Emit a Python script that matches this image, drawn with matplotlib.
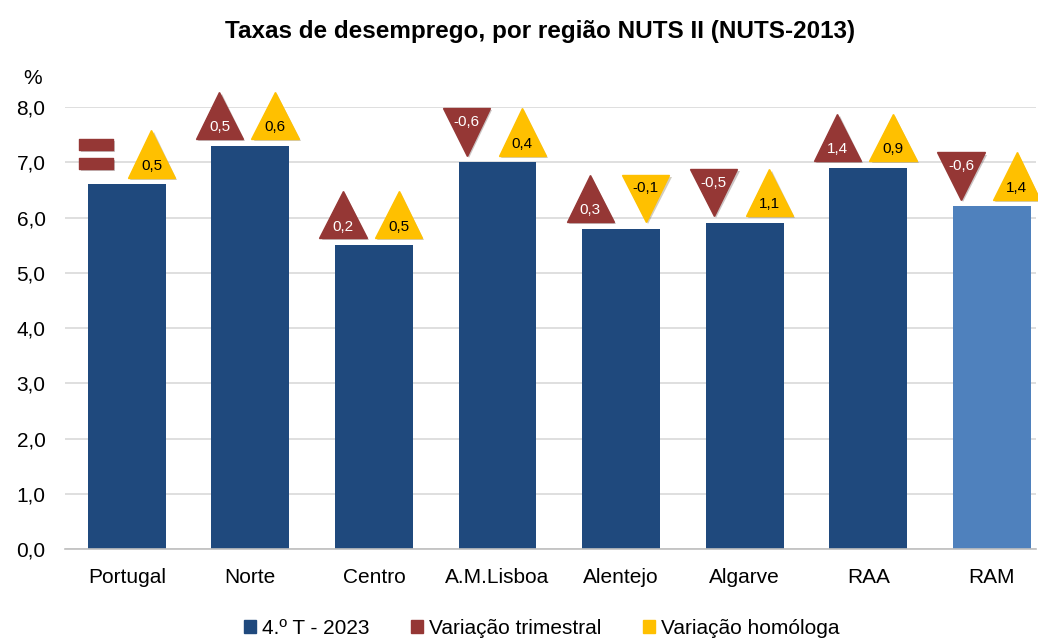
import numpy as np
import matplotlib.pyplot as plt
from matplotlib.path import Path
import matplotlib.patheffects as pe
from matplotlib.patches import Patch

plt.rcParams['font.family'] = ['Liberation Sans', 'DejaVu Sans']

regioes = ['Portugal', 'Norte', 'Centro', 'A.M.Lisboa', 'Alentejo', 'Algarve', 'RAA', 'RAM']
taxa = [6.6, 7.3, 5.5, 7.0, 5.8, 5.9, 6.9, 6.2]
var_trim = [0.0, 0.5, 0.2, -0.6, 0.3, -0.5, 1.4, -0.6]
var_hom = [0.5, 0.6, 0.5, 0.4, -0.1, 1.1, 0.9, 1.4]

c_bar = '#1f497d'
c_ram = '#4f81bd'
c_trim = '#953735'
c_hom = '#ffc000'

# "=" marker for zero change
eq_marker = Path.make_compound_path(
    Path([(-1, 0.24), (1, 0.24), (1, 0.91), (-1, 0.91), (-1, 0.24)], closed=True),
    Path([(-1, -0.91), (1, -0.91), (1, -0.24), (-1, -0.24), (-1, -0.91)], closed=True))

fig = plt.figure(figsize=(10.38, 6.41), dpi=100)
ax = fig.add_axes([0.0626, 0.1435, 0.9354, 0.6895])

x = np.arange(len(regioes))
cores = [c_bar] * (len(regioes) - 1) + [c_ram]
ax.bar(x, taxa, width=0.63, color=cores, zorder=2)

shadow = [pe.SimplePatchShadow(offset=(1.5, -1.5), alpha=0.25), pe.Normal()]

def draw_markers(xs, vals, color, txtcolor):
    for xi, top, v in zip(xs, taxa, vals):
        y = top + 0.55
        if v > 0:
            m, ms, dy = '^', 34, -8.5
        elif v < 0:
            m, ms, dy = 'v', 34, 7
        else:
            m, ms, dy = eq_marker, 24, 0
        ln, = ax.plot([xi], [y], marker=m, markersize=ms, color=color,
                      linestyle='none', clip_on=False, zorder=3)
        ln.set_path_effects(shadow)
        if v != 0:
            lbl = f'{v:.1f}'.replace('.', ',')
            ax.annotate(lbl, (xi, y), xytext=(0, dy), textcoords='offset points',
                        ha='center', va='center', fontsize=11, color=txtcolor,
                        zorder=4, annotation_clip=False)

draw_markers(x - 0.25, var_trim, c_trim, 'white')
draw_markers(x + 0.2, var_hom, c_hom, 'black')

ax.set_xlim(-0.5, 7.356)
ax.set_ylim(0, 8)
yt = np.arange(0, 8.1, 1)
ax.set_yticks(yt)
ax.set_yticklabels([f'{v:.1f}'.replace('.', ',') for v in yt], fontsize=15)
ax.set_xticks(x)
ax.set_xticklabels(regioes, fontsize=15)
ax.tick_params(axis='x', length=0, pad=14)
ax.tick_params(axis='y', length=0, pad=14)
ax.grid(axis='y', color='#d9d9d9', linewidth=1.2, zorder=0)
for s in ['top', 'right', 'left']:
    ax.spines[s].set_visible(False)
ax.spines['bottom'].set_color('#bfbfbf')
ax.spines['bottom'].set_linewidth(1.2)
ax.spines['bottom'].set_zorder(2.5)

fig.text(0.031, 0.878, '%', fontsize=15, ha='center', va='center')
fig.text(0.52, 0.951, 'Taxas de desemprego, por região NUTS II (NUTS-2013)',
         fontsize=17.5, fontweight='bold', ha='center', va='center')

handles = [Patch(color=c_bar), Patch(color=c_trim), Patch(color=c_hom)]
labels = ['4.º T - 2023', 'Variação trimestral', 'Variação homóloga']
fig.legend(handles, labels, loc='center', bbox_to_anchor=(0.522, 0.02), ncol=3,
           frameon=False, fontsize=15, handlelength=0.55, handleheight=0.55,
           handletextpad=0.3, columnspacing=2.0)

fig.savefig('out.png', dpi=100)
